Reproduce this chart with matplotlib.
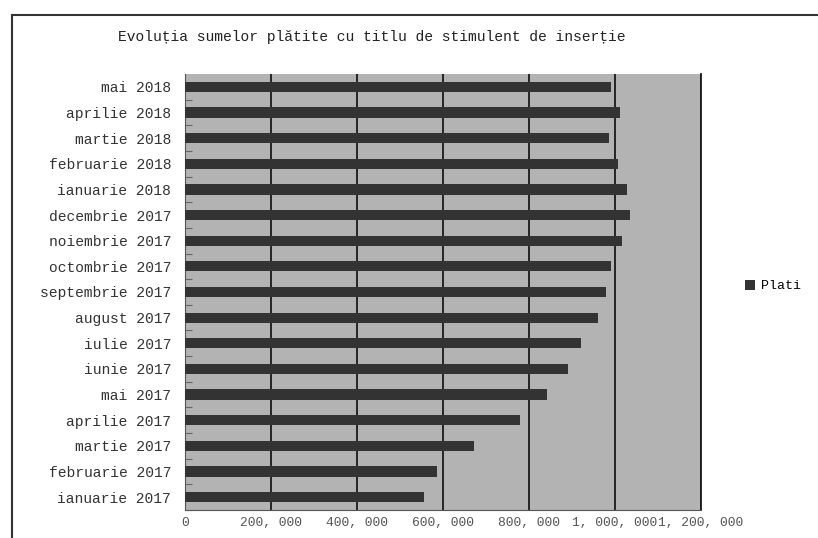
import matplotlib
matplotlib.use("Agg")
import matplotlib.pyplot as plt
import numpy as np
from matplotlib.patches import Rectangle
from matplotlib.ticker import FixedLocator

# Data (top to bottom as shown)
months = [
    "mai 2018", "aprilie 2018", "martie 2018", "februarie 2018",
    "ianuarie 2018", "decembrie 2017", "noiembrie 2017", "octombrie 2017",
    "septembrie 2017", "august 2017", "iulie 2017", "iunie 2017",
    "mai 2017", "aprilie 2017", "martie 2017", "februarie 2017",
    "ianuarie 2017",
]
plati = [
    991000, 1012000, 985000, 1006000,
    1027000, 1034000, 1017000, 990000,
    979000, 961000, 922000, 890000,
    841000, 779000, 673000, 586000,
    555000,
]
x_ticks = [0, 200000, 400000, 600000, 800000, 1000000, 1200000]
x_labels = ["0", "200, 000", "400, 000", "600, 000", "800, 000",
            "1, 000, 000", "1, 200, 000"]

W, H = 818, 538
fig = plt.figure(figsize=(W / 100, H / 100), dpi=100)
fig.patch.set_facecolor("white")

# outer frame (partially cropped)
fig.patches.append(Rectangle((12 / W, -0.1), 1.1, (H - 15) / H + 0.1,
                             transform=fig.transFigure, fill=False,
                             edgecolor="#333333", linewidth=1.5))

ax = fig.add_axes([185 / W, (H - 510) / H, 516 / W, 436 / H])
ax.set_facecolor("#b3b3b3")

n = len(months)
y = np.arange(n)
ax.barh(y, plati, height=0.4, color="#333333", zorder=3, label="Plati")
ax.set_ylim(n - 0.5, -0.5)
ax.set_xlim(0, 1200000)

ax.set_yticks(y)
ax.set_yticklabels(months, family="Liberation Mono", fontsize=10.5, color="#333333")
ax.tick_params(axis="y", length=0, pad=10)
ax.yaxis.set_minor_locator(FixedLocator(np.arange(n) + 0.5))
ax.tick_params(axis="y", which="minor", direction="in", length=5,
               color="#666666", width=0.8)

ax.set_xticks(x_ticks)
ax.set_xticklabels(x_labels, family="Liberation Mono", fontsize=9.4, color="#555555")
ax.tick_params(axis="x", length=0, pad=5)

ax.grid(axis="x", color="#1a1a1a", linewidth=1.3, zorder=1)
ax.set_axisbelow(True)

ax.spines["top"].set_visible(False)
ax.spines["left"].set_color("#555555")
ax.spines["bottom"].set_color("#555555")
ax.spines["right"].set_color("#1a1a1a")
ax.spines["right"].set_linewidth(1.3)

fig.text(118 / W, 1 - 37 / H,
         "Evoluția sumelor plătite cu titlu de stimulent de inserție",
         family="Liberation Mono", fontsize=10.5, color="#222222",
         ha="left", va="center")

leg = fig.legend(loc="center left", bbox_to_anchor=(733 / W, 1 - 286 / H),
                 frameon=False, prop={"family": "Liberation Mono", "size": 9.5},
                 handlelength=0.8, handleheight=0.8, handletextpad=0.4)

fig.savefig("out.png", dpi=100)
